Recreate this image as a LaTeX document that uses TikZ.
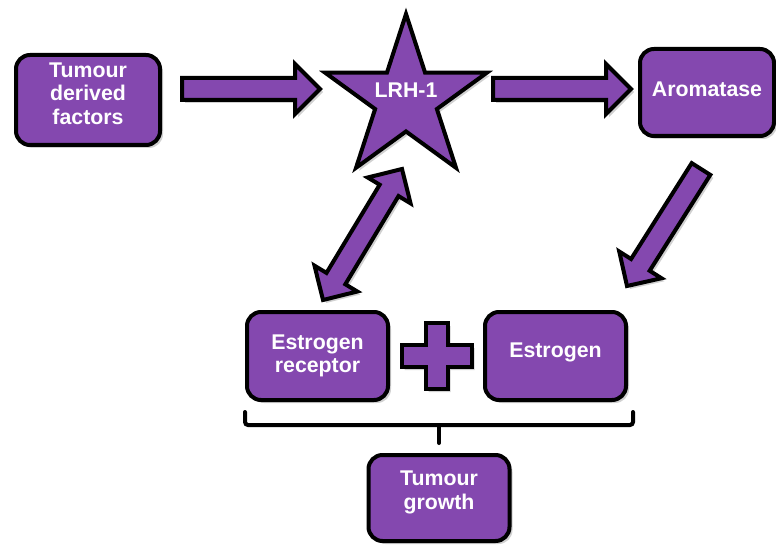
\documentclass[tikz,border=0pt]{standalone}
\usepackage{fontspec}
\setmainfont{Liberation Sans}
\usetikzlibrary{positioning,shapes.geometric,calc,shadows}
\definecolor{BoxPurple}{RGB}{132,72,175}

% fat outlined arrow from #1 (tail) to #2 (tip)
\newcommand{\blockarrow}[2]{%
  \coordinate (hb) at ($(#2)!25pt!(#1)$);
  \filldraw[blockfill] ($(#1)!11pt!90:(#2)$) -- ($(hb)!11pt!90:(#2)$) -- ($(hb)!25pt!90:(#2)$)
    -- (#2) -- ($(hb)!25pt!-90:(#2)$) -- ($(hb)!11pt!-90:(#2)$) -- ($(#1)!11pt!-90:(#2)$) -- cycle;
}
% same with a head at both ends
\newcommand{\blockdarrow}[2]{%
  \coordinate (ha) at ($(#1)!25pt!(#2)$);
  \coordinate (hb) at ($(#2)!25pt!(#1)$);
  \filldraw[blockfill] (#1) -- ($(ha)!25pt!90:(#2)$) -- ($(ha)!11pt!90:(#2)$) -- ($(hb)!11pt!90:(#2)$)
    -- ($(hb)!25pt!90:(#2)$) -- (#2) -- ($(hb)!25pt!-90:(#2)$) -- ($(hb)!11pt!-90:(#2)$)
    -- ($(ha)!11pt!-90:(#2)$) -- ($(ha)!25pt!-90:(#2)$) -- cycle;
}

\begin{document}
\begin{tikzpicture}[x=1pt, y=-1pt,
    softshadow/.style={drop shadow={shadow xshift=3pt, shadow yshift=-3pt, opacity=0.18, fill=black}},
    box/.style={rectangle, draw=black, line width=4pt, fill=BoxPurple, rounded corners=14pt,
                text=white, align=center, font=\fontsize{21.3}{23.5}\selectfont\bfseries, softshadow},
    blockfill/.style={draw=black, line width=4pt, fill=BoxPurple, line join=miter, softshadow},
    bracket/.style={draw=black, line width=4pt, line cap=round, rounded corners=3pt},
]
    \useasboundingbox (0,0) rectangle (776,545);

    \node[box, minimum width=144pt, minimum height=90pt, text depth=13pt] (tdf) at (88,100) {Tumour\\derived\\factors};
    \node[star, star points=5, star point ratio=2.618, minimum size=170pt, inner sep=0pt,
          draw=black, line width=4pt, fill=BoxPurple, line join=miter, softshadow,
          label={[text=white, font=\fontsize{21.3}{23.5}\selectfont\bfseries, yshift=9pt]center:LRH-1}] (lrh) at (406,99) {};
    \node[box, minimum width=134pt, minimum height=87pt, text depth=6pt] (arom) at (707,92.5) {Aromatase};
    \node[box, minimum width=141pt, minimum height=88pt] (er) at (317.5,356) {Estrogen\\receptor};
    \node[box, minimum width=141pt, minimum height=88pt, text depth=12pt, right=93pt of er] (estr) {Estrogen};

    \coordinate (plus) at ($(er.east)!0.5!(estr.west)$);
    \filldraw[blockfill] (plus) ++(-11,-33) -- ++(22,0) -- ++(0,22) -- ++(24,0) -- ++(0,22) -- ++(-24,0)
        -- ++(0,22) -- ++(-22,0) -- ++(0,-22) -- ++(-24,0) -- ++(0,-22) -- ++(24,0) -- cycle;

    \coordinate (brl) at ([yshift=-23pt]er.south west);
    \coordinate (brr) at ([xshift=5pt, yshift=-23pt]estr.south east);
    \coordinate (brm) at ($(brl)!0.5!(brr)$);
    \coordinate (brt) at ([yshift=-18pt]brm);
    \draw[bracket] ([yshift=13pt]brl) -- (brl) -- (brr) -- ([yshift=13pt]brr);
    \draw[bracket] (brm) -- (brt);
    \node[box, minimum width=141pt, minimum height=86pt, text depth=16pt, below=10pt of brt] (grow) {Tumour\\growth};

    \coordinate (a1s) at ([xshift=20pt, yshift=11pt]tdf.east);
    \coordinate (a1e) at ([xshift=-86pt, yshift=10pt]lrh.center);
    \coordinate (a2s) at ([xshift=87pt, yshift=10pt]lrh.center);
    \coordinate (a2e) at ([xshift=-7pt, yshift=3.5pt]arom.west);
    \coordinate (a3s) at ([xshift=-6pt, yshift=-31pt]arom.south);
    \coordinate (a3e) at ([xshift=-1pt, yshift=24pt]estr.north east);
    \coordinate (a4s) at ([xshift=5.5pt, yshift=10pt]er.north);
    \coordinate (a4e) at ([xshift=-4pt, yshift=-70pt]lrh.center);

    \blockarrow{a1s}{a1e}
    \blockarrow{a2s}{a2e}
    \blockarrow{a3s}{a3e}
    \blockdarrow{a4s}{a4e}
\end{tikzpicture}
\end{document}
